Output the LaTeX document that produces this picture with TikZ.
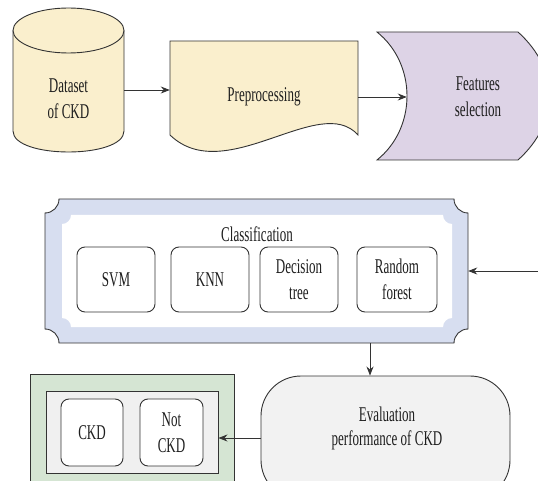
\documentclass[tikz,border=0pt]{standalone}
\usepackage{fontspec}
\setmainfont{Liberation Serif}[FakeStretch=0.62]
\usetikzlibrary{arrows.meta}

\definecolor{linegray}{HTML}{333333}
\definecolor{textdark}{HTML}{1E1E1E}
\definecolor{dbyellow}{HTML}{FAEFCD}
\definecolor{fslilac}{HTML}{DDD3E6}
\definecolor{clfblue}{HTML}{D7DEF0}
\definecolor{resgreen}{HTML}{D5E5D3}
\definecolor{resgray}{HTML}{F0F0F0}
\definecolor{evgray}{HTML}{F2F2F2}

\newcommand{\lblfont}{\fontsize{21}{26}\selectfont}

\tikzset{
  flow/.style={-{Stealth[length=9pt,width=7pt]}, line width=0.9pt},
  shapeline/.style={draw=linegray, line width=0.9pt},
  holder/.style={inner sep=0pt, align=center},
  algbox/.style={shapeline, rounded corners=8pt, fill=white, minimum height=65pt, align=center, inner sep=1pt},
}

\begin{document}
\begin{tikzpicture}[x=1pt, y=-1pt, color=linegray, every node/.append style={font=\lblfont, text=textdark}]
\useasboundingbox (0,0) rectangle (538,481);
\clip (0,0) rectangle (538,481);

% Dataset (cylinder)
\draw[shapeline, fill=dbyellow] (13,30.5) -- (13,131) .. controls (13,159) and (124,159) .. (124,131) -- (124,30.5);
\draw[shapeline, fill=dbyellow] (68.5,30.5) ellipse [x radius=55.5pt, y radius=22.5pt];
\node[holder, minimum width=111pt] (data) at (68.5,99) {Dataset\\of CKD};

% Preprocessing (document)
\draw[shapeline, fill=dbyellow] (170,41) -- (358,41) -- (358,135)
    .. controls (320,92) and (225,188) .. (170,135) -- cycle;
\node[holder, minimum width=188pt] (prep) at (264,97) {Preprocessing};

% Features selection
\draw[shapeline, fill=fslilac] (377,32) -- (518,32) .. controls (560,70) and (560,122) .. (518,160)
    -- (377,160) .. controls (417,128) and (417,64) .. (377,32) -- cycle;
\node[holder, minimum width=142pt] (feat) at (478,97) {Features\\selection};

\draw[flow] ([yshift=9pt]data.east) -- ([yshift=9pt]data.east -| prep.west);
\draw[flow] (prep.east) -- (prep.east -| feat.west);

% Classification frame
\draw[shapeline, fill=clfblue] (59,199) -- (454,199) .. controls (454,206.7) and (460.3,213) .. (468,213)
    -- (468,329) .. controls (460.3,329) and (454,335.3) .. (454,343)
    -- (59,343) .. controls (59,335.3) and (52.7,329) .. (45,329)
    -- (45,213) .. controls (52.7,213) and (59,206.7) .. (59,199) -- cycle;
\fill[white] (71,215) -- (443,215) .. controls (443,220) and (447,224) .. (452,224)
    -- (452,318) .. controls (447,318) and (443,322) .. (443,327)
    -- (71,327) .. controls (71,322) and (67,318) .. (62,318)
    -- (62,224) .. controls (67,224) and (71,220) .. (71,215) -- cycle;
\node[holder, minimum width=423pt, minimum height=144pt] (clf) at (256.5,271) {};
\node (clftitle) at (257,234) {Classification};

\node[algbox, minimum width=78pt] (svm) at (116,279.5) {SVM};
\node[algbox, minimum width=78pt] (knn) at (210,279.5) {KNN};
\node[algbox, minimum width=78pt] (dtree) at (299,279.5) {Decision\\tree};
\node[algbox, minimum width=80pt] (rforest) at (397,279.5) {Random\\forest};

\coordinate (loop) at (540,271);
\draw[flow] (loop) -- (clf.east);

% Evaluation
\node[shapeline, fill=evgray, rounded corners=40pt, minimum width=249pt, minimum height=124pt] (evalbox) at (385.5,438) {};
\node[holder, font=\fontsize{21}{24}\selectfont] (eval) at (387,428) {Evaluation\\performance of CKD};
\path (evalbox.north) ++(-15.5,0) coordinate (evtop);
\draw[flow] (clf.south -| evtop) -- (evtop);

% Result
\node[shapeline, fill=resgreen, minimum width=204pt, minimum height=126pt] (out) at (132,437) {};
\node[shapeline, fill=resgray, minimum width=172pt, minimum height=82pt] (res) at (132,432) {};
\node[algbox, minimum width=62pt, minimum height=67pt] (ckd) at (92,432.5) {CKD};
\node[algbox, minimum width=63pt, minimum height=67pt] (nckd) at (171.5,432.5) {Not\\CKD};

\draw[flow] (evalbox.west) -- (evalbox.west -| res.east);
\end{tikzpicture}
\end{document}
